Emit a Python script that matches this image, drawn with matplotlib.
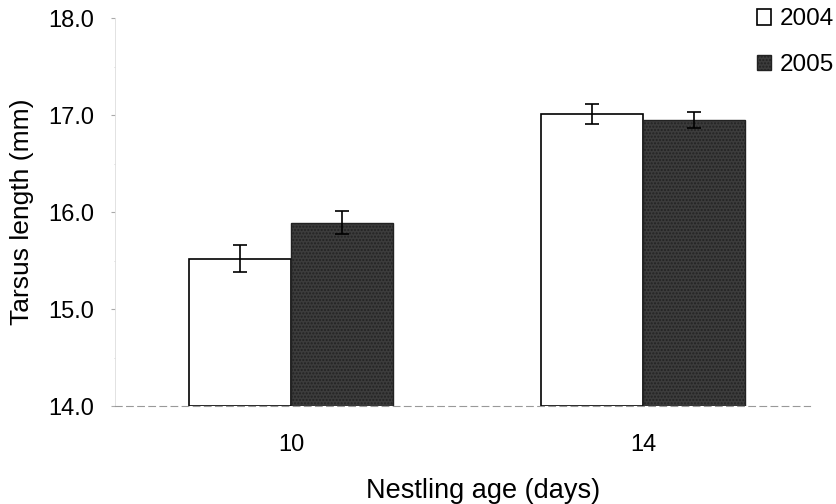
import numpy as np
import matplotlib.pyplot as plt

plt.rcParams['font.family'] = ['Liberation Sans', 'DejaVu Sans']
plt.rcParams['hatch.color'] = '#8a8a8a'

ages = ['10', '14']
years = ['2004', '2005']
tarsus_2004 = [15.52, 17.01]
tarsus_2005 = [15.89, 16.95]
se_2004 = [0.14, 0.10]
se_2005 = [0.12, 0.085]

fig = plt.figure(figsize=(8.36, 5.04), dpi=100)
ax = fig.add_axes([0.1376, 0.194, 0.8314, 0.770])

x = np.arange(len(ages))
w = 0.29
base = 14.0
ekw = dict(ecolor='black', elinewidth=1.2, capsize=5, capthick=1.2)

ax.bar(x - w / 2, np.array(tarsus_2004) - base, w, bottom=base,
       color='white', edgecolor='black', linewidth=1.2, label=years[0],
       yerr=se_2004, error_kw=ekw)
ax.bar(x + w / 2, np.array(tarsus_2005) - base, w, bottom=base,
       color='#3c3c3c', edgecolor='#222222', linewidth=1.0, hatch='.....',
       label=years[1], yerr=se_2005, error_kw=ekw)

ax.set_xlim(-0.5, 1.475)
ax.set_ylim(14.0, 18.0)
ax.set_yticks([14.0, 15.0, 16.0, 17.0, 18.0])
ax.set_yticklabels(['14.0', '15.0', '16.0', '17.0', '18.0'])
ax.set_yticks([14.5, 15.5, 16.5, 17.5], minor=True)
ax.set_xticks(x)
ax.set_xticklabels(ages)

for s in ['top', 'right']:
    ax.spines[s].set_visible(False)
ax.spines['left'].set_color('#dddddd')
ax.spines['left'].set_linewidth(0.6)
ax.spines['bottom'].set_color('#999999')
ax.spines['bottom'].set_linewidth(0.8)
ax.spines['bottom'].set_linestyle((0, (6, 4)))

ax.tick_params(axis='y', which='major', length=3, color='#aaaaaa', labelsize=17, pad=12)
ax.tick_params(axis='y', which='minor', length=1, color='#cccccc')
ax.tick_params(axis='x', length=0, labelsize=17, pad=20)

fig.text(0.026, 0.58, 'Tarsus length (mm)', rotation=90, va='center', ha='center', fontsize=19)
fig.text(0.578, 0.026, 'Nestling age (days)', ha='center', va='center', fontsize=19.5)

fig.legend(loc='upper left', bbox_to_anchor=(0.902, 0.988), frameon=False, fontsize=17.5,
           handlelength=0.6, handleheight=0.6, handletextpad=0.35, labelspacing=0.98,
           borderaxespad=0, borderpad=0.1)

fig.savefig('out.png', dpi=100)
